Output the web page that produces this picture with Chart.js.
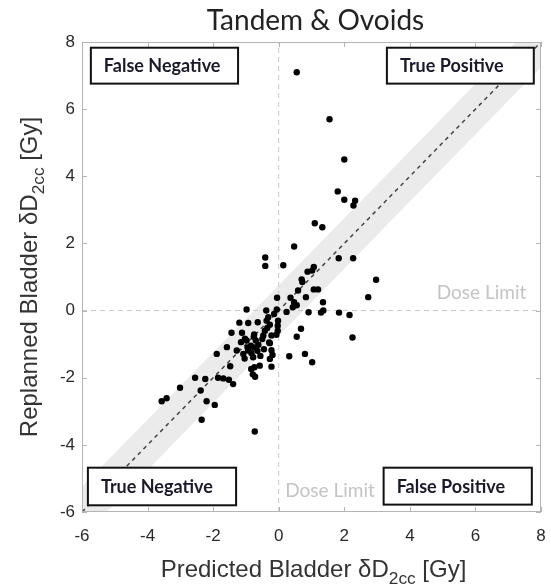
<!DOCTYPE html>
<html>
<head>
<meta charset="utf-8">
<script src="https://cdn.jsdelivr.net/npm/chart.js@4"></script>
<style>
  html, body { margin: 0; padding: 0; background: #fff; }
  #wrap { width: 551px; height: 588px; }
</style>
</head>
<body>
<div id="wrap"><canvas id="doseChart" width="551" height="588"></canvas></div>
<script>
// predicted vs replanned bladder dose change, one entry per fraction
var predicted = [
    0.55, 1.55, 2.0, 1.8, 2.0, 2.33, 2.28, 1.1, 1.33, 0.47,
    -0.41, -0.41, 0.14, 1.83, 2.27, 2.97, 2.73, 1.07, 1.02, 0.88,
    0.7, 0.72, 1.07, 1.2, 0.83, 1.35, 0.91, 1.29, 1.36, 1.84,
    2.16, 0.68, 0.55, 2.25, 0.32, 0.8, 1.02,
    -0.05, 0.36, 0.59, 0.47, 0.55, 0.43, 0.24, -0.06, -0.14, -0.38, -0.98,
    -1.2, -0.93, -0.64, -0.32, -0.37, -0.27, -0.35, -0.02, -0.03, -0.03,
    -0.07, -0.22, -0.42, -0.47, -1.44, -1.12, -0.75, -0.76, -1.03, -1.15,
    -0.98, -0.7, -0.29, -0.62, -1.58, -1.28, -0.93, -0.83, -0.22, -1.89,
    -1.08, -0.78, -1.04, -0.56, -0.27, -0.19, -0.27, -0.85, -0.75, -0.95,
    -0.65, -0.5, -0.45,
    -1.48, -0.84, -0.74, -0.58, -0.79, -0.72, -0.22, -2.24, -1.85, -1.69,
    -1.52, -2.55, -1.39, -3.01, -2.38, -3.57, -3.42, -2.2, -1.95, -2.35,
    -0.73
];
var replanned = [
    7.1, 5.7, 4.5, 3.55, 3.3, 3.27, 3.13, 2.6, 2.48, 1.91,
    1.58, 1.33, 1.35, 1.56, 1.56, 0.92, 0.4, 1.3, 1.19, 1.16,
    0.93, 0.85, 0.63, 0.63, 0.4, 0.25, -0.05, -0.06, 0.0, -0.06,
    -0.13, -0.54, -0.78, -0.8, -1.36, -1.29, -1.54,
    0.38, 0.38, 0.6, 0.25, 0.16, 0.1, -0.04, 0.03, -0.1, 0.0, 0.03,
    -0.36, -0.37, -0.35, -0.2, -0.3, -0.42, -0.52, -0.3, -0.45, -0.6,
    -0.72, -0.74, -0.6, -0.74, -0.66, -0.66, -0.71, -0.78, -0.84, -0.94,
    -0.89, -0.89, -0.95, -1.02, -1.09, -1.19, -1.19, -1.27, -1.18, -1.29,
    -1.29, -1.39, -1.43, -1.35, -1.44, -1.32, -0.97, -1.05, -1.1, -1.1,
    -1.2, -0.85, -1.15,
    -1.66, -1.74, -1.69, -1.64, -1.9, -1.97, -1.67, -2.04, -2.0, -2.02,
    -2.06, -2.0, -2.19, -2.3, -2.38, -2.7, -2.61, -2.7, -2.81, -3.25,
    -3.6
];

var axisMin = -6;
var axisMax = 8;
var tickValues = [-6, -4, -2, 0, 2, 4, 6, 8];
var doseLimit = 0;
var bandHalfWidth = 0.75;

// quadrant labels: [text, left, top, right, bottom] in Gy
var quadrantLabels = [
    ['False Negative', -5.73, 7.83, -1.24, 6.76],
    ['True Positive', 3.3, 7.83, 7.78, 6.76],
    ['True Negative', -5.82, -4.68, -1.3, -5.8],
    ['False Positive', 3.2, -4.68, 7.72, -5.78]
];
// dose limit captions: [text, x, y] (left edge, middle)
var limitLabels = [
    ['Dose Limit', 0.2, -5.38],
    ['Dose Limit', 4.82, 0.52]
];

var scatterPoints = predicted.map(function (p, i) {
    return { x: p, y: replanned[i] };
});

function lineOf(offset) {
    return [{ x: axisMin, y: axisMin + offset }, { x: axisMax, y: axisMax + offset }];
}

function drawSubLabel(ctx, parts, size) {
    var w = 0;
    parts.forEach(function (p) {
        ctx.font = (p.sub ? size * 0.72 : size) + 'px "Liberation Sans", Arial, sans-serif';
        p.w = ctx.measureText(p.t).width;
        w += p.w;
    });
    var x = -w / 2;
    parts.forEach(function (p) {
        ctx.font = (p.sub ? size * 0.72 : size) + 'px "Liberation Sans", Arial, sans-serif';
        ctx.fillText(p.t, x, p.sub ? size * 0.3 : 0);
        x += p.w;
    });
}

var decorPlugin = {
    id: 'decor',
    afterDraw: function (chart) {
        var ctx = chart.ctx;
        var a = chart.chartArea;
        var xs = chart.scales.x, ys = chart.scales.y;
        ctx.save();

        // axes frame with inward ticks
        ctx.strokeStyle = '#b4b4b4';
        ctx.lineWidth = 1;
        ctx.strokeRect(a.left + 0.5, a.top + 0.5, a.right - a.left - 1, a.bottom - a.top - 1);
        ctx.beginPath();
        tickValues.forEach(function (v) {
            var px = Math.round(xs.getPixelForValue(v)) + 0.5;
            ctx.moveTo(px, a.bottom); ctx.lineTo(px, a.bottom - 5);
            ctx.moveTo(px, a.top); ctx.lineTo(px, a.top + 5);
            var py = Math.round(ys.getPixelForValue(v)) + 0.5;
            ctx.moveTo(a.left, py); ctx.lineTo(a.left + 5, py);
            ctx.moveTo(a.right, py); ctx.lineTo(a.right - 5, py);
        });
        ctx.stroke();

        // quadrant boxes
        quadrantLabels.forEach(function (q) {
            var l = xs.getPixelForValue(q[1]), t = ys.getPixelForValue(q[2]);
            var r = xs.getPixelForValue(q[3]), b = ys.getPixelForValue(q[4]);
            ctx.fillStyle = '#fff';
            ctx.fillRect(l, t, r - l, b - t);
            ctx.strokeStyle = '#111';
            ctx.lineWidth = 2;
            ctx.strokeRect(l, t, r - l, b - t);
            ctx.fillStyle = '#1a1a2a';
            ctx.font = 'bold 18px Lato, "Open Sans", sans-serif';
            ctx.textBaseline = 'middle';
            ctx.textAlign = 'left';
            ctx.fillText(q[0], l + 13, (t + b) / 2 + 1);
        });

        // dose limit captions
        ctx.fillStyle = '#c4c4c4';
        ctx.font = '19px Lato, "Open Sans", sans-serif';
        ctx.textBaseline = 'middle';
        limitLabels.forEach(function (d) {
            ctx.fillText(d[0], xs.getPixelForValue(d[1]), ys.getPixelForValue(d[2]));
        });

        // title
        ctx.fillStyle = '#222';
        ctx.font = '28px Lato, "Open Sans", sans-serif';
        ctx.textAlign = 'center';
        ctx.textBaseline = 'alphabetic';
        ctx.fillText('Tandem & Ovoids', (a.left + a.right) / 2 + 4, 30);

        // axis titles
        ctx.fillStyle = '#333';
        ctx.textAlign = 'left';
        ctx.save();
        ctx.translate((a.left + a.right) / 2 + 2, 577);
        drawSubLabel(ctx, [{ t: 'Predicted Bladder \u03b4D' }, { t: '2cc', sub: true }, { t: ' [Gy]' }], 24);
        ctx.restore();
        ctx.save();
        ctx.translate(37, (a.top + a.bottom) / 2);
        ctx.rotate(-Math.PI / 2);
        drawSubLabel(ctx, [{ t: 'Replanned Bladder \u03b4D' }, { t: '2cc', sub: true }, { t: ' [Gy]' }], 24);
        ctx.restore();

        ctx.restore();
    }
};

var tickFont = { family: '"Liberation Sans", Arial, sans-serif', size: 17 };

function fixedTicks(s) {
    s.ticks = tickValues.map(function (v) { return { value: v }; });
}

new Chart(document.getElementById('doseChart').getContext('2d'), {
    type: 'scatter',
    data: {
        datasets: [
            {
                type: 'line', data: lineOf(-bandHalfWidth), borderWidth: 0,
                pointRadius: 0, fill: false, order: 5
            },
            {
                type: 'line', data: lineOf(bandHalfWidth), borderWidth: 0,
                pointRadius: 0, fill: '-1', backgroundColor: '#ebebeb', order: 5
            },
            {
                type: 'line', data: [{ x: doseLimit, y: axisMin }, { x: doseLimit, y: axisMax }],
                borderColor: '#c8c8c8', borderWidth: 1, borderDash: [5, 4], pointRadius: 0, order: 4
            },
            {
                type: 'line', data: [{ x: axisMin, y: doseLimit }, { x: axisMax, y: doseLimit }],
                borderColor: '#c8c8c8', borderWidth: 1, borderDash: [5, 4], pointRadius: 0, order: 4
            },
            {
                type: 'line', data: lineOf(0),
                borderColor: '#444', borderWidth: 1.5, borderDash: [4, 4], pointRadius: 0, order: 3
            },
            {
                data: scatterPoints, backgroundColor: '#000', borderColor: '#000',
                pointRadius: 3.2, borderWidth: 0, order: 1
            }
        ]
    },
    options: {
        responsive: false,
        animation: false,
        layout: { padding: { top: 42, right: 10, left: 0, bottom: 0 } },
        plugins: { legend: { display: false }, tooltip: { enabled: false } },
        scales: {
            x: {
                type: 'linear', min: axisMin, max: axisMax,
                grid: { display: false, drawTicks: false },
                border: { display: false },
                afterFit: function (s) { s.height = 76; s.paddingLeft = 0; s.paddingRight = 0; },
                afterBuildTicks: fixedTicks,
                ticks: { color: '#2a2a2a', font: tickFont, padding: 14, maxRotation: 0 }
            },
            y: {
                type: 'linear', min: axisMin, max: axisMax,
                grid: { display: false, drawTicks: false },
                border: { display: false },
                afterFit: function (s) { s.width = 82; s.paddingTop = 0; s.paddingBottom = 0; },
                afterBuildTicks: fixedTicks,
                ticks: { color: '#2a2a2a', font: tickFont, padding: 7 }
            }
        }
    },
    plugins: [decorPlugin]
});
</script>
</body>
</html>
